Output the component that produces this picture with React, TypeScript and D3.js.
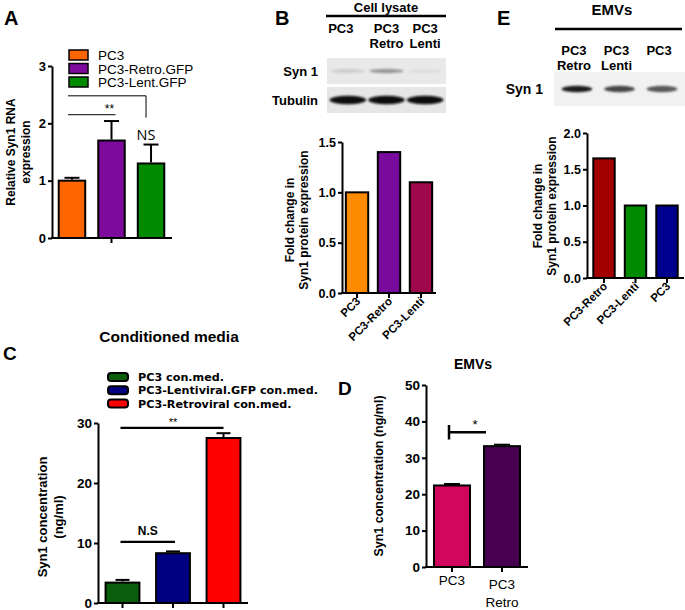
import React, { useEffect, useRef } from "react";
import * as d3 from "d3";

const FONT = "'Liberation Sans', Arial, sans-serif";

// Panel A - RNA expression
const aGroups = ["PC3", "PC3-Retro.GFP", "PC3-Lent.GFP"];
const aValues = [1.0, 1.7, 1.3];
const aErrors = [0.05, 0.34, 0.33];
const aColors = ["#ff6600", "#7d0a9c", "#008a00"];
const aTicks = [0, 1, 2, 3];

// Panel B - cell lysate
const bLanes = [["PC3"], ["PC3", "Retro"], ["PC3", "Lenti"]];
const bGroups = ["PC3", "PC3-Retro", "PC3-Lenti"];
const bValues = [1.0, 1.4, 1.1];
const bColors = ["#ff8c00", "#780a9e", "#a0084c"];
const bTicks = [0, 0.5, 1.0, 1.5];
const bSynBands = [0.3, 0.5, 0.22];
const bTubulinBands = [0.97, 0.95, 0.97];

// Panel E - EMVs western
const eLanes = [["PC3", "Retro"], ["PC3", "Lenti"], ["PC3"]];
const eGroups = ["PC3-Retro", "PC3-Lenti", "PC3"];
const eValues = [1.65, 1.0, 1.0];
const eColors = ["#a30000", "#008a00", "#00008f"];
const eTicks = [0, 0.5, 1.0, 1.5, 2.0];
const eSynBands = [0.9, 0.78, 0.72];

// Panel C - conditioned media
const cGroups = ["PC3 con.med.", "PC3-Lentiviral.GFP con.med.", "PC3-Retroviral con.med."];
const cValues = [3.4, 8.3, 27.5];
const cErrors = [0.45, 0.3, 0.8];
const cColors = ["#0b5e0b", "#000080", "#ff0000"];
const cTicks = [0, 10, 20, 30];

// Panel D - EMVs ELISA
const dGroups = [["PC3"], ["PC3", "Retro"]];
const dValues = [22.4, 33.2];
const dErrors = [0.4, 0.4];
const dColors = ["#d1065d", "#47004f"];
const dTicks = [0, 10, 20, 30, 40, 50];

function barPanel(root: any, cfg: any) {
  const g = root.append("g");
  const keys = cfg.values.map((_: any, i: number) => i);
  const x = d3
    .scaleBand()
    .domain(keys)
    .range(cfg.xRange)
    .paddingInner(cfg.inner)
    .paddingOuter(cfg.outer);
  const y = d3.scaleLinear().domain([0, cfg.yMax]).range(cfg.yRange);
  const bw = x.bandwidth();

  g.selectAll("rect.bar")
    .data(keys)
    .join("rect")
    .attr("x", (d: any) => x(d))
    .attr("y", (d: any) => y(cfg.values[d]))
    .attr("width", bw)
    .attr("height", (d: any) => y(0) - y(cfg.values[d]))
    .attr("fill", (d: any) => cfg.colors[d])
    .attr("stroke", "#000")
    .attr("stroke-width", 2);

  if (cfg.errors) {
    const cap = cfg.cap || 14;
    keys.forEach((d: number) => {
      const cx = x(d)! + bw / 2;
      const top = y(cfg.values[d] + cfg.errors[d]);
      g.append("line")
        .attr("x1", cx).attr("x2", cx)
        .attr("y1", y(cfg.values[d]) - 1).attr("y2", top)
        .attr("stroke", "#000").attr("stroke-width", 2);
      g.append("line")
        .attr("x1", cx - cap / 2).attr("x2", cx + cap / 2)
        .attr("y1", top).attr("y2", top)
        .attr("stroke", "#000").attr("stroke-width", 2);
    });
  }

  const yAxis = g
    .append("g")
    .attr("transform", `translate(${cfg.xRange[0]},0)`)
    .call(
      d3
        .axisLeft(y)
        .tickValues(cfg.ticks)
        .tickSize(4)
        .tickSizeOuter(0)
        .tickPadding(2)
        .tickFormat(cfg.fmt || d3.format("d"))
    );
  yAxis.select(".domain").attr("stroke-width", 2);
  yAxis.selectAll(".tick line").attr("stroke-width", 2);
  yAxis
    .selectAll("text")
    .attr("font-family", FONT)
    .attr("font-weight", "bold")
    .attr("font-size", cfg.tickSize || 13)
    .attr("fill", "#000");

  g.append("line")
    .attr("x1", cfg.xRange[0] - 1)
    .attr("x2", cfg.axisEnd)
    .attr("y1", y(0))
    .attr("y2", y(0))
    .attr("stroke", "#000")
    .attr("stroke-width", 2);

  const tickKeys = cfg.xTicks || keys;
  g.selectAll("line.xt")
    .data(tickKeys)
    .join("line")
    .attr("x1", (d: any) => x(d)! + bw / 2)
    .attr("x2", (d: any) => x(d)! + bw / 2)
    .attr("y1", y(0))
    .attr("y2", y(0) + 5)
    .attr("stroke", "#000")
    .attr("stroke-width", 2);

  if (cfg.rotLabels) {
    g.selectAll("text.xl")
      .data(keys)
      .join("text")
      .attr(
        "transform",
        (d: any) => `translate(${x(d)! + bw / 2 + 4},${y(0) + 9}) rotate(-45)`
      )
      .attr("text-anchor", "end")
      .attr("font-family", FONT)
      .attr("font-weight", "bold")
      .attr("font-size", 11.5)
      .text((d: any) => cfg.rotLabels[d]);
  }

  if (cfg.title) {
    const t = g
      .append("text")
      .attr("transform", `translate(${cfg.title.x},${cfg.title.y}) rotate(-90)`)
      .attr("text-anchor", "middle")
      .attr("font-family", FONT)
      .attr("font-weight", "bold")
      .attr("font-size", cfg.title.size || 12);
    cfg.title.lines.forEach((l: string, i: number) => {
      t.append("tspan")
        .attr("x", 0)
        .attr("dy", i === 0 ? 0 : cfg.title.gap || 14)
        .text(l);
    });
  }
  return { x, y, bw, g };
}

function blot(root: any, cfg: any) {
  const lane = d3
    .scaleBand()
    .domain(cfg.bands.map((_: any, i: number) => i))
    .range([cfg.x0, cfg.x1])
    .paddingInner(0.12)
    .paddingOuter(0.1);
  root
    .append("rect")
    .attr("x", cfg.x0)
    .attr("y", cfg.y0)
    .attr("width", cfg.x1 - cfg.x0)
    .attr("height", cfg.y1 - cfg.y0)
    .attr("fill", cfg.bg);
  root
    .append("g")
    .attr("filter", "url(#blotBlur)")
    .selectAll("ellipse")
    .data(cfg.bands)
    .join("ellipse")
    .attr("cx", (_: any, i: number) => lane(i)! + lane.bandwidth() / 2)
    .attr("cy", (cfg.y0 + cfg.y1) / 2)
    .attr("rx", (lane.bandwidth() / 2) * (cfg.rxScale || 1))
    .attr("ry", cfg.ry)
    .attr("fill", (v: number) => d3.interpolateGreys(v));
  root
    .append("text")
    .attr("x", cfg.labelX)
    .attr("y", (cfg.y0 + cfg.y1) / 2 + 5)
    .attr("text-anchor", "end")
    .attr("font-family", FONT)
    .attr("font-weight", "bold")
    .attr("font-size", cfg.labelSize || 13)
    .text(cfg.label);
  return lane;
}

function laneLabels(root: any, lanes: string[][], xs: number[], y: number) {
  lanes.forEach((ls, i) => {
    const t = root
      .append("text")
      .attr("text-anchor", "middle")
      .attr("font-family", FONT)
      .attr("font-weight", "bold")
      .attr("font-size", 13)
      .attr("y", y);
    ls.forEach((l, j) => {
      t.append("tspan").attr("x", xs[i]).attr("dy", j === 0 ? 0 : 15).text(l);
    });
  });
}

function txt(root: any, x: number, y: number, s: string, size: number, opts: any = {}) {
  return root
    .append("text")
    .attr("x", x)
    .attr("y", y)
    .attr("text-anchor", opts.anchor || "start")
    .attr("font-family", opts.family || FONT)
    .attr("font-weight", opts.weight || "bold")
    .attr("font-size", size)
    .text(s);
}

export default function App() {
  const ref = useRef<SVGSVGElement>(null);

  useEffect(() => {
    const svg = d3.select(ref.current);
    svg.selectAll("*").remove();
    svg
      .append("defs")
      .append("filter")
      .attr("id", "blotBlur")
      .attr("x", "-20%")
      .attr("y", "-100%")
      .attr("width", "140%")
      .attr("height", "300%")
      .append("feGaussianBlur")
      .attr("stdDeviation", 1.1);

    // ---------- Panel A ----------
    txt(svg, 4, 25, "A", 20);
    const A = barPanel(svg, {
      xRange: [52, 171],
      inner: 0.33,
      outer: 0.17,
      yRange: [238, 66],
      yMax: 3,
      values: aValues,
      errors: aErrors,
      colors: aColors,
      ticks: aTicks,
      axisEnd: 172,
      xTicks: [1],
      cap: 15,
      tickSize: 13,
      title: { x: 15, y: 152, lines: ["Relative Syn1 RNA", "expression"], size: 12, gap: 15 },
    });
    aGroups.forEach((name, i) => {
      const ly = 55 + i * 13.5;
      svg
        .append("rect")
        .attr("x", 69)
        .attr("y", ly - 5)
        .attr("width", 19)
        .attr("height", 10)
        .attr("fill", aColors[i])
        .attr("stroke", "#000")
        .attr("stroke-width", 1.5);
      txt(svg, 98, ly + 5, name, 13.5, { weight: "normal" });
    });
    // significance brackets
    const aMid = (i: number) => A.x(i)! + A.bw / 2;
    svg.append("path")
      .attr("d", `M68,${A.y(2.48)}H${aMid(2) - 5}V${A.y(2.1)}`)
      .attr("fill", "none").attr("stroke", "#000").attr("stroke-width", 1);
    svg.append("line")
      .attr("x1", 68).attr("x2", aMid(1) + 4)
      .attr("y1", A.y(2.15)).attr("y2", A.y(2.15))
      .attr("stroke", "#000").attr("stroke-width", 1);
    txt(svg, aMid(1) - 2, A.y(2.2) + 1, "**", 12, { anchor: "middle", weight: "normal" });
    txt(svg, aMid(2) - 5, A.y(1.8) + 5, "NS", 14.5, { anchor: "middle", weight: "normal", family: "'Open Sans', sans-serif" });

    // ---------- Panel B ----------
    txt(svg, 275, 25, "B", 20);
    txt(svg, 386, 12, "Cell lysate", 13, { anchor: "middle" });
    svg.append("line")
      .attr("x1", 326).attr("x2", 446).attr("y1", 16).attr("y2", 16)
      .attr("stroke", "#000").attr("stroke-width", 2.5);
    const bLane = blot(svg, {
      x0: 327, x1: 446, y0: 58, y1: 84, bg: "#e9e9e9",
      bands: bSynBands, ry: 2.2, label: "Syn 1", labelX: 318,
    });
    blot(svg, {
      x0: 327, x1: 446, y0: 87, y1: 113, bg: "#e6e6e6",
      bands: bTubulinBands, ry: 4.2, rxScale: 1.08, label: "Tubulin", labelX: 318,
    });
    laneLabels(svg, bLanes, bGroups.map((_, i) => bLane(i)! + bLane.bandwidth() / 2 - (i === 0 ? 7 : 0)), 33);
    barPanel(svg, {
      xRange: [342, 436],
      inner: 0.3,
      outer: 0.12,
      yRange: [293, 142],
      yMax: 1.5,
      values: bValues,
      colors: bColors,
      ticks: bTicks,
      fmt: d3.format(".1f"),
      axisEnd: 436,
      tickSize: 12.5,
      rotLabels: bGroups,
      title: { x: 294, y: 220, lines: ["Fold change in", "Syn1 protein expression"], size: 12, gap: 14 },
    });

    // ---------- Panel E ----------
    txt(svg, 497, 25, "E", 20);
    txt(svg, 612, 15, "EMVs", 15, { anchor: "middle" });
    svg.append("line")
      .attr("x1", 555).attr("x2", 682).attr("y1", 29).attr("y2", 29)
      .attr("stroke", "#000").attr("stroke-width", 2.5);
    const eLane = blot(svg, {
      x0: 554, x1: 685, y0: 72, y1: 106, bg: "#f1f1f1",
      bands: eSynBands, ry: 3.2, rxScale: 0.82, label: "Syn 1", labelX: 543, labelSize: 14,
    });
    laneLabels(svg, eLanes, eGroups.map((_, i) => eLane(i)! + eLane.bandwidth() / 2 - 3), 55);
    barPanel(svg, {
      xRange: [587, 684],
      inner: 0.32,
      outer: 0.2,
      yRange: [278, 133],
      yMax: 2,
      values: eValues,
      colors: eColors,
      ticks: eTicks,
      fmt: d3.format(".1f"),
      axisEnd: 684,
      tickSize: 12.5,
      rotLabels: eGroups,
      title: { x: 542, y: 206, lines: ["Fold change in", "Syn1 protein expression"], size: 12, gap: 14 },
    });

    // ---------- Panel C ----------
    txt(svg, 3, 360, "C", 19);
    txt(svg, 169, 342, "Conditioned media", 15.5, { anchor: "middle" });
    cGroups.forEach((name, i) => {
      const ly = 377 + i * 13.3;
      svg.append("rect")
        .attr("x", 108).attr("y", ly - 4).attr("width", 20).attr("height", 8)
        .attr("rx", 3)
        .attr("fill", cColors[i]).attr("stroke", "#000").attr("stroke-width", 2);
      txt(svg, 138, ly + 4, name, 11.2, { family: "'DejaVu Sans', sans-serif" });
    });
    const C = barPanel(svg, {
      xRange: [98, 248],
      inner: 0.33,
      outer: 0.15,
      yRange: [603, 423],
      yMax: 30,
      values: cValues,
      errors: cErrors,
      colors: cColors,
      ticks: cTicks,
      axisEnd: 248,
      cap: 14,
      tickSize: 13.5,
      title: { x: 47, y: 517, lines: ["Syn1 concentration", "(ng/ml)"], size: 13, gap: 16 },
    });
    const cMid = (i: number) => C.x(i)! + C.bw / 2;
    svg.append("line")
      .attr("x1", cMid(0) - 2).attr("x2", cMid(1) + 2)
      .attr("y1", C.y(10.2)).attr("y2", C.y(10.2))
      .attr("stroke", "#000").attr("stroke-width", 2.2);
    txt(svg, (cMid(0) + cMid(1)) / 2, C.y(11.3), "N.S", 12, { anchor: "middle" });
    svg.append("line")
      .attr("x1", cMid(0) - 2).attr("x2", cMid(2))
      .attr("y1", C.y(29.2)).attr("y2", C.y(29.2))
      .attr("stroke", "#000").attr("stroke-width", 2.2);
    txt(svg, (cMid(0) + cMid(2)) / 2, C.y(29.5), "**", 11, { anchor: "middle", weight: "normal" });

    // ---------- Panel D ----------
    txt(svg, 338, 395, "D", 19);
    txt(svg, 473, 369, "EMVs", 14, { anchor: "middle" });
    const D = barPanel(svg, {
      xRange: [426, 528],
      inner: 0.28,
      outer: 0.16,
      yRange: [567, 385],
      yMax: 50,
      values: dValues,
      errors: dErrors,
      colors: dColors,
      ticks: dTicks,
      axisEnd: 528,
      cap: 16,
      tickSize: 13.5,
      title: { x: 383, y: 476, lines: ["Syn1 concentration (ng/ml)"], size: 12.5 },
    });
    dGroups.forEach((ls, i) => {
      const t = svg.append("text")
        .attr("text-anchor", "middle")
        .attr("font-family", FONT)
        .attr("font-size", 13.5)
        .attr("y", 585 + i * 4);
      ls.forEach((l, j) => {
        t.append("tspan").attr("x", D.x(i)! + D.bw / 2).attr("dy", j === 0 ? 0 : 18).text(l);
      });
    });
    const dMid = (i: number) => D.x(i)! + D.bw / 2;
    svg.append("path")
      .attr("d", `M${dMid(0) - 3},${D.y(39)}V${D.y(35)}M${dMid(0) - 3},${D.y(37)}H${dMid(1) - 16}`)
      .attr("fill", "none").attr("stroke", "#000").attr("stroke-width", 2.5);
    txt(svg, (dMid(0) + dMid(1)) / 2 - 2, D.y(38.5) + 2, "*", 13, { anchor: "middle", weight: "normal" });
  }, []);

  return (
    <svg
      ref={ref}
      width={685}
      height={610}
      style={{ position: "absolute", left: 0, top: 0, background: "#fff" }}
    />
  );
}
